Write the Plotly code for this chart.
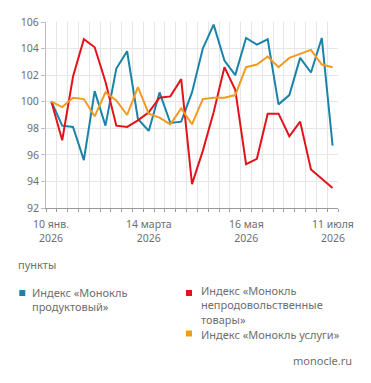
import plotly.graph_objects as go

dates = ["2026-01-10", "2026-01-17", "2026-01-24", "2026-01-31", "2026-02-07", "2026-02-14",
         "2026-02-21", "2026-02-28", "2026-03-07", "2026-03-14", "2026-03-21", "2026-03-28",
         "2026-04-04", "2026-04-11", "2026-04-18", "2026-04-25", "2026-05-02", "2026-05-09",
         "2026-05-16", "2026-05-23", "2026-05-30", "2026-06-06", "2026-06-13", "2026-06-20",
         "2026-06-27", "2026-07-04", "2026-07-11"]

food = [100.0, 98.2, 98.1, 95.6, 100.8, 98.2, 102.5, 103.8, 98.7, 97.8, 100.7, 98.4, 98.5,
        100.7, 104.0, 105.8, 103.1, 102.0, 104.8, 104.3, 104.7, 99.8, 100.5, 103.3, 102.2,
        104.8, 96.7]
nonfood = [100.0, 97.1, 101.9, 104.7, 104.1, 101.5, 98.2, 98.1, 98.6, 99.2, 100.3, 100.4,
           101.7, 93.8, 96.3, 99.2, 102.6, 100.9, 95.3, 95.7, 99.1, 99.1, 97.4, 98.5, 94.9,
           94.2, 93.5]
services = [100.0, 99.6, 100.3, 100.2, 98.9, 100.7, 100.1, 99.0, 101.1, 99.1, 98.8, 98.3,
            99.5, 98.3, 100.2, 100.3, 100.3, 100.5, 102.6, 102.8, 103.4, 102.6, 103.3, 103.6,
            103.9, 102.8, 102.6]

series_names = ["Индекс «Монокль продуктовый»", "Индекс «Монокль непродовольственные товары»",
                "Индекс «Монокль услуги»"]
legend_lines = ["Индекс «Монокль<br>продуктовый»",
                "Индекс «Монокль<br>непродовольственные<br>товары»",
                "Индекс «Монокль услуги»"]
colors = ["#1a83a9", "#e3131c", "#f39a1f"]

tick_vals = ["2026-01-10", "2026-03-14", "2026-05-16", "2026-07-11"]
tick_text = ["10 янв.<br>2026", "14 марта<br>2026", "16 мая<br>2026", "11 июля<br>2026"]

FONT = "Noto Sans"
GRAY = "#6e6e6e"

fig = go.Figure()
for vals, name, col in zip([food, nonfood, services], series_names, colors):
    fig.add_trace(go.Scatter(x=dates, y=vals, mode="lines", name=name,
                             line=dict(color=col, width=2), showlegend=False))

W, H = 371, 383
L, R, T, B = 46, 338, 22.3, 208.3


def px(x):
    return (x - L) / (R - L)


def py(y):
    return (B - y) / (B - T)


fig.update_layout(
    width=W, height=H,
    margin=dict(l=L, r=W - R, t=T, b=H - B),
    paper_bgcolor="white", plot_bgcolor="white",
    font=dict(family=FONT, size=11, color=GRAY),
    xaxis=dict(
        type="date",
        range=["2026-01-06 12:00", "2026-07-14 12:00"],
        tickvals=tick_vals, showticklabels=False,
        showgrid=False, ticks="",
        showline=True, linecolor="#9a9a9a", linewidth=1,
        minor=dict(tick0="2026-01-06 12:00", dtick=7 * 86400000, showgrid=True,
                   gridcolor="#e6e6e6", gridwidth=1, ticks="outside", ticklen=3,
                   tickcolor="#9a9a9a"),
        fixedrange=True,
    ),
    yaxis=dict(
        range=[92, 106], dtick=2, tick0=92,
        showgrid=True, gridcolor="#e6e6e6", gridwidth=1,
        zeroline=False,
        showline=True, linecolor="#bdbdbd", linewidth=1,
        ticks="outside", ticklen=4, tickcolor="#bdbdbd",
        tickfont=dict(family=FONT, size=10.5, color=GRAY),
        fixedrange=True,
    ),
)

annotations = []

# x-axis tick labels (two lines each)
for tv, tt in zip(tick_vals, tick_text):
    annotations.append(dict(x=tv, xref="x", y=py(230.8), yref="paper", text=tt,
                            showarrow=False, xanchor="center", yanchor="middle",
                            borderpad=0, align="center",
                            font=dict(family=FONT, size=10.5, color=GRAY)))


def text(x, y, s, xanchor="left", size=11):
    annotations.append(dict(x=px(x), y=py(y), xref="paper", yref="paper", text=s,
                            showarrow=False, xanchor=xanchor, yanchor="middle",
                            align="left", borderpad=0,
                            font=dict(family=FONT, size=size, color=GRAY)))


text(17, 265, "пункты")
text(31, 300, legend_lines[0])
text(200, 305.6, legend_lines[1])
text(200, 335.0, legend_lines[2])
text(353, 361, "monocle.ru", xanchor="right")
fig.update_layout(annotations=annotations)

shapes = []
for (cx, cy), col in zip([(22.3, 293.3), (189, 293.3), (189, 333.8)], colors):
    shapes.append(dict(type="rect", xref="paper", yref="paper",
                       x0=px(cx - 3), x1=px(cx + 3), y0=py(cy + 3), y1=py(cy - 3),
                       fillcolor=col, line=dict(width=0)))
fig.update_layout(shapes=shapes)

fig.write_html("out.html", config={"displayModeBar": False})
